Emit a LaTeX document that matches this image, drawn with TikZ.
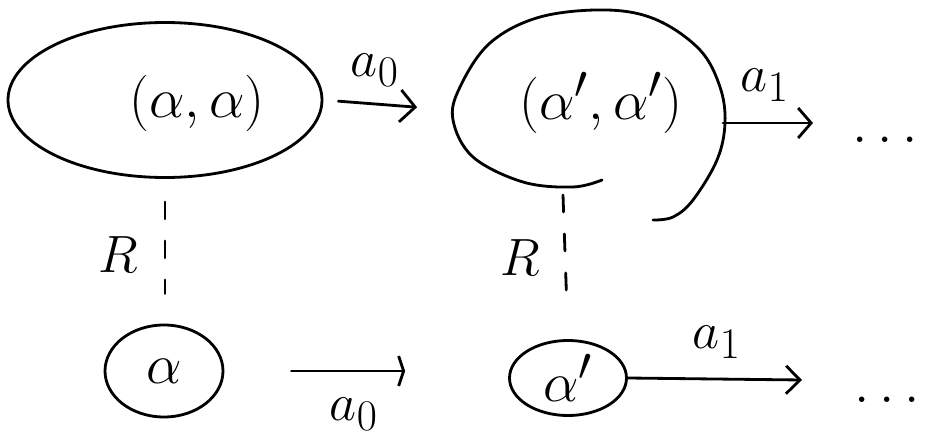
\documentclass[tikz,border=0pt]{standalone}
\usepackage{amsmath}
\usepackage{tikz}
\usetikzlibrary{arrows.meta, positioning, calc, shapes.geometric}
\newcommand{\bigtxt}[1]{\scalebox{1.29}{#1}}
\newcommand{\lbltxt}[1]{\scalebox{1.2}{#1}}

\begin{document}
\begin{tikzpicture}[line width=1.6pt, line cap=round,
  every node/.style={font=\Huge},
  blob/.style={draw, ellipse, inner sep=0pt},
  step arrow/.style={-{Straight Barb[length=3mm, width=6.4mm]}},
  rel/.style={dash pattern=on 0.34cm off 0.44cm}]
  \useasboundingbox (0,0) rectangle (18.58,-8.86);

  % top row
  \node[blob, minimum width=6.28cm, minimum height=3.1cm] (e1) at (3.3,-2.0) {};
  \node (t1) at (3.94,-2.06) {\bigtxt{$(\alpha, \alpha)$}};
  \node (t2) at (12.02,-2.06) {\bigtxt{$(\alpha', \alpha')$}};
  \draw plot[smooth, tension=0.6] coordinates {(12.04,-3.6) (11.46,-3.74) (10.46,-3.64) (9.46,-3.14)
    (9.06,-2.4) (9.2,-1.74) (9.8,-0.86) (10.8,-0.34) (12.14,-0.2) (13.14,-0.4) (14,-1.0)
    (14.4,-1.74) (14.5,-2.46) (14.34,-3.2) (13.86,-4.0) (13.46,-4.34) (13.06,-4.4)};
  \coordinate (e2w) at (9.06,-2.2);
  \coordinate (e2e) at (14.46,-2.46);
  \coordinate (e2s) at (11.26,-3.9);
  \coordinate (t1end) at (16.26,-2.46);
  \node (dots1) at (17.8,-2.8) {\bigtxt{$\dots$}};

  % bottom row
  \node[blob, minimum width=2.36cm, minimum height=1.84cm] (s1) at (3.28,-7.42) {\bigtxt{$\alpha$}};
  \node[blob, minimum width=2.34cm, minimum height=1.5cm] (s2) at (11.36,-7.56) {\bigtxt{$\alpha'$}};
  \coordinate (b1end) at (16.04,-7.6);
  \node (dots2) at (17.84,-8.0) {\bigtxt{$\dots$}};

  \draw[step arrow, shorten <=0.3cm, shorten >=0.72cm] (e1.east) -- (e2w);
  \draw[step arrow, {-{Straight Barb[length=2.6mm, width=6mm]}}] (e2e) -- (t1end);
  \draw[{-{Straight Barb[length=1mm, width=6mm]}}, shorten <=1.34cm, shorten >=2.06cm] (s1.east) -- (s1.east -| s2.west);
  \draw[step arrow, {-{Straight Barb[length=2.8mm, width=5.6mm]}}] (s2.east) -- (b1end);

  \draw[rel, shorten <=0.46cm, shorten >=0.6cm] (e1.south) -- (e1.south |- s1.north);
  \draw[rel, shorten >=0.86cm] (e2s) -- (s2.north);

  \node (l1) at (7.5,-1.4) {\lbltxt{$a_0$}};
  \node (l2) at (15.3,-1.7) {\lbltxt{$a_1$}};
  \node (l3) at (7.08,-8.28) {\lbltxt{$a_0$}};
  \node (l4) at (14.34,-6.84) {\lbltxt{$a_1$}};
  \node (r1) at (2.36,-5.1) {\lbltxt{$R$}};
  \node (r2) at (10.4,-5.16) {\lbltxt{$R$}};
\end{tikzpicture}
\end{document}
